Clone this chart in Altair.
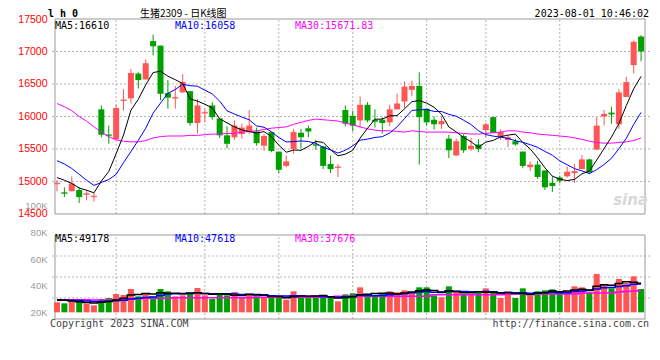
import altair as alt
import pandas as pd

# ---------------- data ----------------
idx = list(range(80))

open_ = [14960, 14830, 14850, 14870, 14800, 14760, 16110, 15720, 15650, 16240,
         16280, 16660, 16570, 17160, 17090, 16360, 16280, 16370, 16390, 15900,
         16050, 16170, 15970, 15710, 15680, 15730, 15760, 15770, 15550, 15760,
         15460, 15240, 15500, 15750, 15820, 15570, 15540, 15270, 15210, 16100,
         16010, 15940, 16180, 15950, 15950, 15910, 16110, 16230, 16410, 16470,
         16120, 15950, 15880, 15660, 15400, 15700, 15500, 15570, 15790, 15990,
         15690, 15640, 15620, 15460, 15220, 15260, 15170, 14980, 15060, 15080,
         15130, 15190, 15340, 15490, 16000, 16060, 15880, 16300, 16790, 17230]

close = [14970, 14820, 14970, 14760, 14810, 14770, 15720, 15710, 16130, 16250,
         16670, 16560, 16820, 17080, 16350, 16290, 16290, 16530, 15900, 16170,
         16060, 15990, 15710, 15580, 15860, 15830, 15860, 15590, 15700, 15470,
         15180, 15310, 15760, 15680, 15770, 15560, 15240, 15190, 15220, 15890,
         15860, 16180, 15940, 15920, 15900, 16110, 16200, 16460, 16470, 15990,
         15910, 15880, 15930, 15480, 15620, 15480, 15550, 15500, 15880, 15750,
         15760, 15680, 15570, 15240, 15260, 15070, 14910, 14930, 15010, 15150,
         15160, 15340, 15140, 15860, 16040, 16040, 16370, 16530, 17150, 17000]

high = [15020, 14910, 15080, 14910, 14860, 14820, 16170, 15860, 16180, 16420,
        16730, 16680, 16880, 17260, 17090, 16560, 16470, 16650, 16390, 16270,
        16120, 16220, 15970, 15850, 15940, 15890, 16100, 15830, 15730, 15760,
        15460, 15400, 15810, 15810, 15860, 15640, 15540, 15400, 15270, 16170,
        16090, 16310, 16220, 16110, 15990, 16180, 16350, 16540, 16550, 16680,
        16120, 16000, 15990, 15720, 15660, 15730, 15670, 15650, 15900, 15990,
        15800, 15710, 15660, 15460, 15310, 15320, 15170, 15080, 15090, 15230,
        15270, 15410, 15350, 15990, 16100, 16150, 16420, 16610, 17170, 17250]

low = [14850, 14760, 14850, 14670, 14710, 14690, 15680, 15580, 15650, 16090,
       16200, 16430, 16570, 16940, 16250, 16120, 16120, 16370, 15860, 15740,
       15910, 15950, 15670, 15510, 15640, 15660, 15730, 15550, 15470, 15450,
       15130, 15220, 15430, 15510, 15680, 15490, 15190, 15130, 15070, 15850,
       15770, 15830, 15910, 15830, 15740, 15850, 16110, 16130, 16310, 15260,
       15860, 15800, 15810, 15360, 15400, 15440, 15470, 15450, 15680, 15750,
       15640, 15530, 15550, 15210, 15160, 15040, 14870, 14840, 14970, 15060,
       14980, 15190, 15120, 15490, 15860, 15890, 15810, 16300, 16660, 16850]

ma5 = [15060, 15020, 14970, 14900, 14866, 14826, 15006, 15154, 15428, 15716,
       16096, 16264, 16486, 16676, 16696, 16620, 16566, 16508, 16272, 16236,
       16190, 16130, 15966, 15902, 15840, 15794, 15768, 15744, 15768, 15690,
       15560, 15450, 15484, 15480, 15540, 15616, 15602, 15488, 15396, 15420,
       15480, 15668, 15818, 15958, 15960, 16010, 16014, 16118, 16228, 16246,
       16206, 16142, 16036, 15838, 15764, 15678, 15612, 15526, 15606, 15632,
       15688, 15714, 15728, 15600, 15502, 15364, 15210, 15082, 15036, 15014,
       15032, 15118, 15160, 15330, 15508, 15684, 15890, 16168, 16426, 16618]

ma10 = [15320, 15270, 15200, 15110, 15020, 14940, 14985, 15030, 15110, 15291,
        15461, 15635, 15820, 16052, 16206, 16358, 16415, 16497, 16474, 16466,
        16405, 16348, 16237, 16087, 16038, 15992, 15949, 15855, 15835, 15765,
        15677, 15609, 15614, 15624, 15615, 15588, 15526, 15486, 15438, 15480,
        15548, 15635, 15653, 15677, 15690, 15745, 15841, 15968, 16093, 16103,
        16108, 16078, 16077, 16033, 16005, 15942, 15877, 15781, 15722, 15698,
        15683, 15663, 15627, 15603, 15567, 15526, 15462, 15405, 15318, 15258,
        15198, 15164, 15121, 15183, 15261, 15358, 15504, 15664, 15878, 16063]

ma30 = [16200, 16150, 16090, 16000, 15930, 15840, 15760, 15690, 15640, 15620,
        15610, 15610, 15630, 15670, 15690, 15700, 15700, 15700, 15710, 15710,
        15720, 15730, 15730, 15740, 15740, 15760, 15770, 15780, 15800, 15820,
        15830, 15840, 15880, 15910, 15940, 15960, 15950, 15940, 15930, 15900,
        15870, 15840, 15810, 15790, 15780, 15780, 15770, 15760, 15780, 15770,
        15760, 15760, 15760, 15760, 15750, 15740, 15730, 15730, 15740, 15750,
        15760, 15780, 15780, 15760, 15750, 15730, 15720, 15710, 15700, 15690,
        15670, 15650, 15620, 15600, 15590, 15590, 15600, 15610, 15630, 15670]

vol = [27.5, 26.75, 28.25, 28.25, 26.5, 25.25, 30, 30.75, 33.75, 33,
       37.5, 32, 34.5, 32, 37.5, 35.75, 32, 32.75, 34.5, 38.25,
       32.75, 30, 33.75, 32.75, 35.25, 31.5, 33.75, 32, 31.5, 31,
       31, 29.5, 35.75, 32.75, 31.5, 31.5, 31.5, 31, 28.25, 33.5,
       34.25, 38.75, 32.75, 31.5, 34, 35.75, 35, 36.5, 35, 38.75,
       38.75, 32.75, 31.25, 39.5, 35.75, 33.75, 33.25, 35, 38, 35.75,
       30.75, 35, 30.75, 38, 32.75, 35.75, 36.5, 37.25, 35, 35.75,
       39.5, 38.75, 35, 48.75, 41.25, 38, 45, 42, 47, 37.5]

vma5 = [29.5, 29, 28.5, 28, 27.45, 27.0, 27.65, 28.15, 29.25, 30.55,
        33.0, 33.4, 34.15, 33.8, 34.7, 34.35, 34.35, 34.0, 34.5, 34.65,
        34.05, 33.65, 33.85, 33.5, 32.9, 32.65, 33.4, 33.05, 32.8, 31.95,
        31.85, 31.0, 31.75, 32.0, 32.1, 32.2, 32.6, 31.65, 30.75, 31.15,
        31.7, 33.15, 33.5, 34.15, 34.25, 34.55, 33.8, 34.55, 35.25, 36.2,
        36.8, 36.35, 35.3, 36.2, 35.6, 34.6, 34.7, 35.45, 35.15, 35.15,
        34.55, 34.9, 34.05, 34.05, 33.45, 34.45, 34.75, 36.05, 35.45, 36.05,
        36.8, 37.25, 36.8, 39.55, 40.65, 40.35, 41.6, 43.0, 42.65, 41.9]

vma10 = [29, 29, 29, 28.8, 28.5, 28.2, 28.2, 28.4, 28.7, 29.0,
         30.0, 30.5, 31.15, 31.5, 32.6, 33.7, 33.9, 34.1, 34.15, 34.7,
         34.2, 34.0, 33.9, 34.0, 33.8, 33.35, 33.5, 33.45, 33.15, 32.4,
         32.25, 32.2, 32.4, 32.4, 32.0, 32.0, 31.8, 31.7, 31.4, 31.6,
         31.95, 32.9, 32.6, 32.45, 32.7, 33.1, 33.5, 34.0, 34.7, 35.2,
         35.7, 35.1, 34.9, 35.7, 35.9, 35.7, 35.5, 35.4, 35.7, 35.4,
         34.6, 34.8, 34.75, 34.6, 34.3, 34.5, 34.8, 35.05, 34.75, 34.75,
         35.6, 36.0, 36.4, 37.5, 38.35, 38.6, 39.4, 39.9, 41.1, 41.3]

vma30 = [29.5, 29.5, 29.5, 29.5, 29.5, 29.3, 29.3, 29.3, 29.5, 29.5,
         29.8, 30.2, 30.6, 30.6, 30.6, 30.6, 30.9, 30.9, 30.9, 30.9,
         31.0, 31.0, 31.0, 31.0, 31.0, 31.0, 31.0, 31.4, 31.4, 31.4,
         31.4, 31.4, 31.4, 31.4, 31.4, 31.4, 31.4, 31.4, 32.0, 32.0,
         32.0, 32.0, 32.0, 32.0, 32.0, 32.0, 32.0, 32.0, 32.0, 32.0,
         32.0, 33.2, 33.2, 33.2, 33.2, 33.2, 33.2, 33.2, 33.2, 33.2,
         33.2, 33.8, 33.8, 33.8, 33.8, 33.8, 33.8, 33.8, 33.8, 33.8,
         33.8, 34.5, 34.5, 34.5, 34.5, 34.5, 35.3, 35.7, 36.0, 36.3]

tick_idx = [0, 8, 20, 30, 40, 50, 58, 68, 78]
tick_labels = ["04-04", "04-17", "05-08", "05-22", "06-05", "06-19", "07-03", "07-17", "07-31"]
grid_idx = [8, 20, 30, 40, 50, 58, 68]

price_ticks = [14500, 15000, 15500, 16000, 16500, 17000, 17500]
price_grid = [15000, 15500, 16000, 16500, 17000]
vol_ticks = [20, 40, 60, 80, 100]
vol_grid = [30.75, 46.5, 62.25]

df = pd.DataFrame({
    "idx": idx, "open": open_, "close": close, "high": high, "low": low,
    "ma5": ma5, "ma10": ma10, "ma30": ma30,
    "vol": vol, "vma5": vma5, "vma10": vma10, "vma30": vma30,
})

# ---------------- styles ----------------
RED = "#ff5555"
GREEN = "#00a000"
GRID = "#b4b4b4"
BORDER = "#999999"
BLUE_LBL = "#0078d4"
MONO = "DejaVu Sans Mono"
SANS = "Liberation Sans"

xs = alt.Scale(domain=[-0.27, 79.53], nice=False, zero=False)
ps = alt.Scale(domain=[12884.6, 17500], nice=False, zero=False)
vs = alt.Scale(domain=[15, 240], nice=False, zero=False)

X = alt.X("idx:Q", scale=xs, axis=None)
updown = alt.condition("datum.close >= datum.open", alt.value(RED), alt.value(GREEN))

label_expr = "".join(f"datum.value == {i} ? '{t}' : " for i, t in zip(tick_idx, tick_labels)) + "''"
x_axis = alt.Axis(values=tick_idx, labelExpr=label_expr, orient="bottom", offset=-105,
                  domain=False, ticks=False, grid=False, labelColor=BLUE_LBL,
                  labelFont=SANS, labelFontSize=11, labelPadding=4, title=None,
                  labelOverlap=False)
price_axis = alt.Axis(values=price_ticks, orient="left", format="d", domain=False, ticks=False,
                      grid=False, labelColor="#ff0000", labelFont=SANS, labelFontSize=10.5,
                      labelPadding=3, title=None, labelOverlap=False)
vol_axis = alt.Axis(values=vol_ticks, orient="left", labelExpr="datum.value + 'K'", domain=False,
                    ticks=False, grid=False, labelColor="#9a9a9a", labelFont=SANS,
                    labelFontSize=9.5, labelPadding=3, title=None, labelOverlap=False)

one = alt.Data(values=[{"a": 1}])
base = alt.Chart(df)

layers = []

# price panel grid + border
layers.append(alt.Chart(pd.DataFrame({"p": price_grid})).mark_rule(
    color=GRID, strokeDash=[2, 2], strokeWidth=1).encode(
    y=alt.Y("p:Q", scale=ps, axis=price_axis)))
layers.append(alt.Chart(pd.DataFrame({"i": grid_idx})).mark_rule(
    color=GRID, strokeDash=[2, 2], strokeWidth=1).encode(
    x=alt.X("i:Q", scale=xs, axis=None),
    y=alt.YDatum(14500, scale=ps, axis=None), y2=alt.Y2Datum(17500)))
layers.append(alt.Chart(one).mark_rect(fillOpacity=0, stroke=BORDER, strokeWidth=1).encode(
    x=alt.XDatum(-0.27, scale=xs, axis=None), x2=alt.X2Datum(79.53),
    y=alt.YDatum(14500, scale=ps, axis=None), y2=alt.Y2Datum(17500)))

# candles
layers.append(base.mark_rule(strokeWidth=1).encode(
    x=alt.X("idx:Q", scale=xs, axis=x_axis),
    y=alt.Y("low:Q", scale=ps, axis=None), y2="high:Q", color=updown))
layers.append(base.mark_bar(size=6).encode(
    x=X, y=alt.Y("open:Q", scale=ps, axis=None), y2="close:Q", color=updown))
layers.append(base.transform_filter("abs(datum.open - datum.close) <= 20").mark_tick(
    orient="horizontal", size=6, thickness=1.5).encode(
    x=X, y=alt.Y("close:Q", scale=ps, axis=None), color=updown))

# price moving averages
for f, c in [("ma30", "#ff00ff"), ("ma10", "#0000ff"), ("ma5", "#000000")]:
    layers.append(base.mark_line(color=c, strokeWidth=1).encode(
        x=X, y=alt.Y(f"{f}:Q", scale=ps, axis=None)))

# volume panel grid + border
layers.append(alt.Chart(pd.DataFrame({"v": vol_grid})).mark_rule(
    color=GRID, strokeDash=[2, 2], strokeWidth=1).encode(
    y=alt.Y("v:Q", scale=vs, axis=None)))
layers.append(alt.Chart(pd.DataFrame({"i": grid_idx})).mark_rule(
    color=GRID, strokeDash=[2, 2], strokeWidth=1).encode(
    x=alt.X("i:Q", scale=xs, axis=None),
    y=alt.YDatum(15, scale=vs, axis=None), y2=alt.Y2Datum(78)))
layers.append(alt.Chart(one).mark_rect(fillOpacity=0, stroke=BORDER, strokeWidth=1).encode(
    x=alt.XDatum(-0.27, scale=xs, axis=None), x2=alt.X2Datum(79.53),
    y=alt.YDatum(15, scale=vs, axis=None), y2=alt.Y2Datum(78)))

# volume bars
layers.append(base.mark_bar(size=6).encode(
    x=X, y=alt.Y("vol:Q", scale=vs, axis=vol_axis), y2=alt.Y2Datum(20), color=updown))
for f, c in [("vma30", "#ff00ff"), ("vma10", "#0000ff"), ("vma5", "#000000")]:
    layers.append(base.mark_line(color=c, strokeWidth=1.5, interpolate="step").encode(
        x=X, y=alt.Y(f"{f}:Q", scale=vs, axis=None)))


def label(text, px, py, color="#000000", size=10, font=MONO, weight="normal",
          align="left", style="normal"):
    return alt.Chart(alt.Data(values=[{"t": text}])).mark_text(
        align=align, baseline="middle", color=color, fontSize=size, font=font,
        fontWeight=weight, fontStyle=style).encode(
        text="t:N", x=alt.value(px), y=alt.value(py))


layers += [
    label("l h 0", -2, -5, size=10, weight="bold"),
    label("生猪2309 - 日K线图", 90, -5.3, size=10, font="Noto Sans CJK SC"),
    label("2023-08-01 10:46:02", 599, -5, align="right"),
    label("MA5:16610", 5, 7),
    label("MA10:16058", 125, 7, color="#0000ff"),
    label("MA30:15671.83", 245, 7, color="#ff00ff"),
    label("MA5:49178", 5, 219.7),
    label("MA10:47618", 125, 219.7, color="#0000ff"),
    label("MA30:37676", 245, 219.7, color="#ff00ff"),
    label("Copyright 2023 SINA.COM", 0, 304.7, color="#444444"),
    label("http://finance.sina.com.cn", 599, 304.7, color="#444444", align="right"),
    label("sina", 598, 181, color="#d8d8d8", size=15, font="DejaVu Sans",
          weight="bold", style="italic", align="right"),
]

chart = alt.layer(*layers).resolve_scale(y="independent").properties(
    width=600, height=300,
    autosize=alt.AutoSizeParams(type="none"),
    padding={"left": 42, "top": 11, "right": 2, "bottom": 20},
    background="#ffffff",
).configure_view(strokeWidth=0)

chart.save("out.html", embed_options={"renderer": "svg", "actions": False})
